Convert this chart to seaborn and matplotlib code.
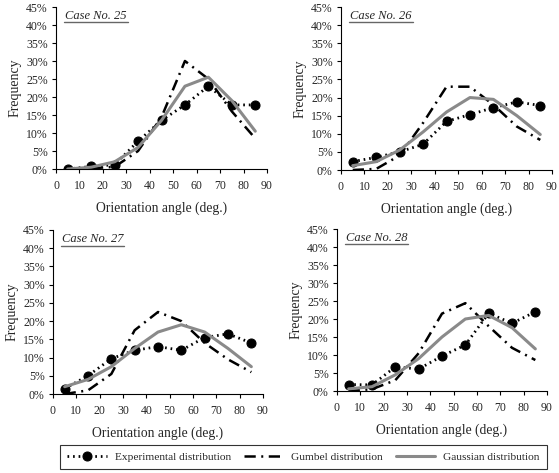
import seaborn as sns
import pandas as pd
import matplotlib.pyplot as plt
from matplotlib.ticker import PercentFormatter

sns.set_style("white")
plt.rcParams['font.family'] = ['Liberation Serif', 'DejaVu Serif']

angles = [5, 15, 25, 35, 45, 55, 65, 75, 85]
cases = ["25", "26", "27", "28"]

exp_25 = [0, 0.7, 1.2, 7.7, 13.5, 17.8, 23.0, 17.8, 17.8]
gum_25 = [0, 0.2, 0.6, 5.0, 14.4, 30.0, 25.0, 16.0, 8.5]
gau_25 = [0, 0.5, 2.0, 6.0, 13.5, 23.0, 25.5, 19.0, 10.5]

exp_26 = [2.3, 3.5, 5.0, 7.1, 13.4, 15.3, 17.2, 18.8, 17.8]
gum_26 = [0, 0.3, 4.0, 13.0, 23.0, 23.0, 18.0, 12.0, 8.3]
gau_26 = [1.2, 2.3, 5.5, 10.5, 16.0, 20.0, 19.5, 15.0, 9.8]

exp_27 = [1.5, 5.0, 9.7, 12.0, 13.0, 12.0, 15.5, 16.5, 14.0]
gum_27 = [0, 1.0, 5.5, 17.5, 22.5, 20.0, 14.0, 9.5, 6.0]
gau_27 = [2.0, 4.0, 7.5, 12.5, 17.0, 19.0, 17.0, 12.5, 7.5]

exp_28 = [1.8, 1.7, 6.7, 6.1, 9.7, 12.8, 21.6, 18.8, 22.0]
gum_28 = [0, 0.5, 3.0, 10.5, 21.5, 24.4, 18.0, 12.0, 8.6]
gau_28 = [0.6, 1.2, 4.5, 9.0, 15.0, 20.0, 21.0, 17.6, 11.7]

data = {
    "25": (exp_25, gum_25, gau_25),
    "26": (exp_26, gum_26, gau_26),
    "27": (exp_27, gum_27, gau_27),
    "28": (exp_28, gum_28, gau_28),
}

fig = plt.figure(figsize=(5.59, 4.73), dpi=100)
W, H = 559, 473
boxes = [(56, 7, 267, 169), (341, 7, 552, 170), (53, 230, 263, 394), (337, 229, 547, 391)]

handles = None
for case, (x0, y0, x1, y1) in zip(cases, boxes):
    ax = fig.add_axes([x0 / W, 1 - y1 / H, (x1 - x0) / W, (y1 - y0) / H])
    exp, gum, gau = data[case]
    df = pd.DataFrame({"angle": angles, "exp": exp, "gum": gum, "gau": gau})
    sns.lineplot(data=df, x="angle", y="exp", ax=ax, color="black", lw=2,
                 linestyle=(0, (0.6, 1.4)), marker="o", markersize=6.5,
                 markeredgecolor="black", label="Experimental distribution")
    sns.lineplot(data=df, x="angle", y="gum", ax=ax, color="black", lw=1.8,
                 linestyle=(0, (4.5, 2.2, 0.8, 2.2)), label="Gumbel distribution")
    sns.lineplot(data=df, x="angle", y="gau", ax=ax, color="#8a8a8a", lw=2.2,
                 label="Gaussian distribution")
    handles, labels = ax.get_legend_handles_labels()
    ax.get_legend().remove()

    ax.set_xlim(0, 90)
    ax.set_ylim(0, 45)
    ax.set_xticks(range(0, 91, 10))
    ax.set_yticks(range(0, 46, 5))
    ax.yaxis.set_major_formatter(PercentFormatter(decimals=0))
    ax.tick_params(labelsize=8.5, length=3, width=0.8, direction="out",
                   color="black", pad=3)
    ax.tick_params(axis="x", pad=5)
    ax.xaxis.set_ticks_position("bottom")
    ax.yaxis.set_ticks_position("left")
    for s in ["top", "right"]:
        ax.spines[s].set_visible(False)
    for s in ["left", "bottom"]:
        ax.spines[s].set_color("black")
        ax.spines[s].set_linewidth(0.8)
    ax.set_xlabel("Orientation angle (deg.)", fontsize=9.8, labelpad=6.5)
    ax.set_ylabel("Frequency", fontsize=10, labelpad=3)
    ax.text(0.045, 0.945, "Case No. " + case, transform=ax.transAxes,
            fontsize=9, style="italic", va="center", ha="left")
    ax.plot([0.04, 0.34], [0.905, 0.905], transform=ax.transAxes,
            color="#666666", lw=1, clip_on=False)

leg = fig.legend(handles, labels, loc="center", ncol=3,
                 bbox_to_anchor=(303.5 / W, 1 - 457 / H), fontsize=8.2,
                 frameon=True, fancybox=False, edgecolor="black",
                 handlelength=3.5, handletextpad=0.7, columnspacing=1.1,
                 borderpad=0.6)
leg.get_frame().set_linewidth(0.8)

fig.savefig("out.png", dpi=100)
